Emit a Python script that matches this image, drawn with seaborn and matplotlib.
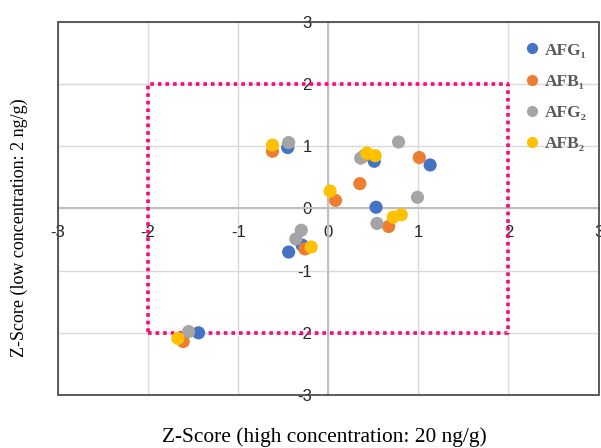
import matplotlib
matplotlib.use("Agg")
import matplotlib.pyplot as plt
from matplotlib.patches import Rectangle
from matplotlib.font_manager import FontProperties
import seaborn as sns
import pandas as pd

series_names = ["AFG\u2081", "AFB\u2081", "AFG\u2082", "AFB\u2082"]
afg1_x = [-0.45, 1.13, 0.51, 0.53, -0.29, -0.44, -1.44]
afg1_y = [0.98, 0.70, 0.76, 0.02, -0.59, -0.70, -2.00]
afb1_x = [-0.62, 1.01, 0.40, 0.35, 0.08, 0.67, -0.26, -1.61]
afb1_y = [0.92, 0.82, 0.85, 0.40, 0.13, -0.29, -0.65, -2.14]
afg2_x = [-0.44, 0.78, 0.36, 0.99, 0.54, -0.30, -0.36, -1.55]
afg2_y = [1.06, 1.07, 0.81, 0.18, -0.24, -0.35, -0.49, -1.98]
afb2_x = [-0.62, 0.43, 0.52, 0.02, 0.72, 0.81, -0.19, -1.67]
afb2_y = [1.02, 0.89, 0.85, 0.28, -0.14, -0.10, -0.62, -2.09]
ticks = [-3, -2, -1, 0, 1, 2, 3]
box_limit = 2
x_label = "Z-Score (high concentration: 20 ng/g)"
y_label = "Z-Score (low concentration: 2 ng/g)"

colors = ["#4472C4", "#ED7D31", "#A5A5A5", "#FFC000"]

frames = []
for name, xs, ys in zip(series_names,
                        [afg1_x, afb1_x, afg2_x, afb2_x],
                        [afg1_y, afb1_y, afg2_y, afb2_y]):
    frames.append(pd.DataFrame({"x": xs, "y": ys, "series": name}))
df = pd.concat(frames, ignore_index=True)

sns.set_style("white")
fig = plt.figure(figsize=(6.01, 4.48), dpi=100)
ax = fig.add_axes([0.0965, 0.1183, 0.8995, 0.8326])

sns.scatterplot(data=df, x="x", y="y", hue="series", hue_order=series_names,
                palette=colors, s=90, linewidth=0, ax=ax, zorder=5)

ax.set_xlim(-3, 3)
ax.set_ylim(-3, 3)
ax.set_xticks(ticks)
ax.set_yticks(ticks)
ax.set_xticklabels([str(t) for t in ticks])
ax.set_yticklabels([str(t) for t in ticks])
ax.grid(True, color="#D9D9D9", linewidth=1)
ax.set_axisbelow(True)

for side in ["left", "bottom"]:
    ax.spines[side].set_position(("data", 0))
    ax.spines[side].set_color("#BFBFBF")
    ax.spines[side].set_linewidth(1.5)
for side in ["top", "right"]:
    ax.spines[side].set_visible(False)
ax.add_patch(Rectangle((0, 0), 1, 1, transform=ax.transAxes, fill=False,
                       edgecolor="#404040", linewidth=1.2, clip_on=False, zorder=6))

ax.tick_params(axis="both", length=0, labelsize=12, labelcolor="#262626")
ax.tick_params(axis="x", pad=12)
ax.tick_params(axis="y", pad=12)
for lab in ax.get_xticklabels() + ax.get_yticklabels():
    lab.set_fontfamily("Liberation Sans")

# dotted limit box
ax.plot([-box_limit, box_limit, box_limit, -box_limit, -box_limit],
        [-box_limit, -box_limit, box_limit, box_limit, -box_limit],
        color="#F50A78", linewidth=2.6, linestyle=(0, (1, 1.1)),
        dash_capstyle="butt", zorder=4)

ax.set_xlabel("")
ax.set_ylabel("")
fig.text(0.539, 0.025, x_label, ha="center", va="center",
         fontfamily="Liberation Serif", fontsize=15.4, color="#000000")
fig.text(0.033, 0.492, y_label, ha="center", va="center", rotation=90,
         fontfamily="Liberation Serif", fontsize=13, color="#000000")

handles, labels = ax.get_legend_handles_labels()
leg = ax.legend(handles, labels, loc="upper right", bbox_to_anchor=(1.0, 0.978),
                frameon=False, handletextpad=-0.3, labelspacing=0.87,
                markerscale=0.85, borderaxespad=0.3,
                prop=FontProperties(family=["Liberation Serif", "DejaVu Serif"],
                                    weight="bold", size=12.5))
for t in leg.get_texts():
    t.set_color("#595959")

fig.savefig("out.png", dpi=100)
